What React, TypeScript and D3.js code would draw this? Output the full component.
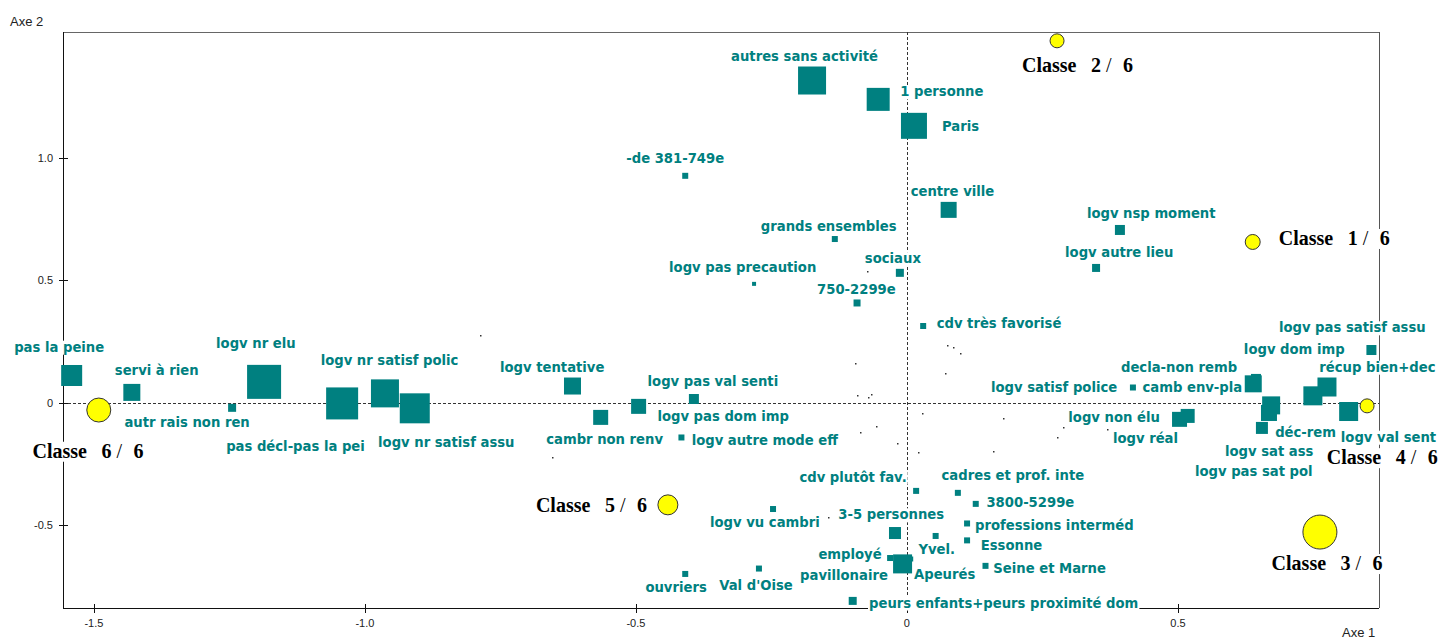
import React, { useEffect, useRef } from "react";
import * as d3 from "d3";

// ---- Data ----
const modalites = [
  "autres sans activité", "1 personne", "Paris", "-de 381-749e", "centre ville",
  "grands ensembles", "sociaux", "logv pas precaution", "750-2299e", "logv nsp moment",
  "logv autre lieu", "cdv très favorisé", "pas la peine", "servi à rien", "autr rais non ren",
  "logv nr elu", "pas décl-pas la pei", "logv nr satisf polic", "logv nr satisf assu", "logv tentative",
  "cambr non renv", "logv pas dom imp", "logv pas val senti", "logv autre mode eff", "logv satisf police",
  "camb env-pla", "decla-non remb", "logv dom imp", "récup bien+dec", "logv val sent",
  "déc-rem", "logv sat ass", "logv pas sat pol", "logv non élu", "logv réal",
  "logv pas satisf assu", "logv vu cambri", "3-5 personnes", "Yvel.", "cdv plutôt fav.",
  "cadres et prof. inte", "employé", "pavillonaire", "Apeurés", "ouvriers",
  "Val d'Oise", "peurs enfants+peurs proximité dom", "3800-5299e", "professions interméd", "Essonne",
  "Seine et Marne",
];
const axe1 = [
  -0.175, -0.053, 0.013, -0.409, 0.077, -0.133, -0.013, -0.282, -0.092, 0.393,
  0.349, 0.030, -1.541, -1.430, -1.245, -1.186, -1.042, -0.963, -0.908, -0.617,
  -0.565, -0.495, -0.393, -0.416, 0.417, 0.639, 0.644, 0.749, 0.775, 0.815,
  0.672, 0.668, 0.655, 0.503, 0.518, 0.857, -0.247, -0.022, 0.053, 0.017,
  0.094, -0.031, -0.008, 0.007, -0.409, -0.273, -0.100, 0.127, 0.111, 0.111,
  0.145,
];
const axe2 = [
  1.316, 1.239, 1.131, 0.927, 0.788, 0.669, 0.531, 0.486, 0.408, 0.706,
  0.551, 0.314, 0.112, 0.043, -0.020, 0.086, -0.002, 0.039, -0.022, 0.069,
  -0.059, -0.014, 0.016, -0.141, 0.063, 0.078, 0.098, 0.029, 0.065, -0.035,
  -0.010, -0.041, -0.102, -0.067, -0.053, 0.216, -0.433, -0.531, -0.543, -0.359,
  -0.367, -0.633, -0.657, -0.637, -0.698, -0.676, -0.808, -0.412, -0.492, -0.561,
  -0.665,
];
const poids = [
  28, 23, 26, 6, 16, 6, 8, 4, 7, 10,
  8, 6, 21, 17, 8, 34, 32, 28, 30, 17,
  15, 15, 10, 6, 6, 17, 10, 19, 19, 19,
  18, 16, 12, 15, 14, 10, 6, 12, 6, 6,
  6, 6, 19, 5, 6, 6, 8, 6, 6, 6,
  6,
];

const classeNum = [1, 2, 3, 4, 5, 6];
const nbClasses = 6;
const classeAxe1 = [0.638, 0.277, 0.762, 0.849, -0.441, -1.491];
const classeAxe2 = [0.657, 1.478, -0.527, -0.012, -0.416, -0.029];
const classeEffectif = [56, 49, 289, 49, 100, 144];

const isolesAxe1 = [-0.788, -0.096, -0.092, -0.072, -0.066, -0.087, -0.057, -0.018, 0.020, 0.028, 0.070, 0.074, 0.085, 0.098, -0.655, 0.177, 0.288, 0.369, 0.277, 0.159, -0.074, -0.146];
const isolesAxe2 = [0.278, 0.163, 0.033, 0.024, 0.037, -0.118, -0.094, -0.163, -0.200, -0.041, 0.122, 0.237, 0.229, 0.204, -0.220, -0.061, -0.098, -0.106, -0.139, -0.196, 0.539, -0.465];

const xTicks = [-1.5, -1.0, -0.5, 0, 0.5];
const xTickLabels = ["-1.5", "-1.0", "-0.5", "0", "0.5"];
const yTicks = [1.0, 0.5, 0, -0.5];
const yTickLabels = ["1.0", "0.5", "0", "-0.5"];

// ---- Layout (label placement offsets in px, relative to marks) ----
const labelOffsets: [number, number][] = [
  [-81, -19.5], [22, -3], [28, 5], [-59, -12.7], [-38, -14],
  [-74, -8.3], [-35, -9.7], [-85, -12.3], [-40, -8.7], [-33, -11.7],
  [-31, -10.7], [13.5, 2.3], [-57.5, -23.8], [-17, -17.5], [-107.7, 18.7],
  [-48, -34.3], [-116, 47.2], [-64.3, -28.5], [-36.7, 38.2], [-72.5, -14.3],
  [-54.5, 26.5], [18.8, 14.2], [-46.3, -13.3], [10.2, 7.5], [-142, 4.8],
  [-110.8, 8.3], [-135, -7.3], [-69, -41.7], [-7.7, -15.3], [-7.8, 30.2],
  [4, 31.8], [-44, 42.7], [-67, 47.7], [-111.2, 2.2], [-74.7, 26.7],
  [-92.5, -17.7], [-63, 17.7], [-56.7, -13.7], [-17.2, 18], [-116.7, -9.3],
  [-16.3, -13], [-71.7, 1.3], [-102.5, 16], [3.3, 20.3], [-39.8, 17.7],
  [-39.7, 21.5], [16.3, 6.7], [10.7, 3.3], [8, 6.5], [13.7, 9.5],
  [7.8, 7.3],
];
const classeLabelOffsets: [number, number][] = [
  [26, 3], [-35, 30.7], [-48.3, 38], [-40.3, 58.3], [-132, 6.7], [-66.3, 47.7],
];

const TEAL = "#008080";

export default function App() {
  const ref = useRef<SVGSVGElement>(null);

  useEffect(() => {
    const svg = d3.select(ref.current!);
    svg.selectAll("*").remove();

    const x = d3.scaleLinear().domain([-1.557, 0.871]).range([63, 1379]);
    const y = d3.scaleLinear().domain([-0.837, 1.514]).range([608, 32]);
    const side = d3.scaleLinear().domain([0, 34]).range([0, 34]);
    const rad = d3.scaleSqrt().domain([0, 289]).range([0, 17]);

    const [xl, xr] = x.range();
    const [yb, yt] = y.range();

    // frame
    const frame = svg.append("g").attr("shape-rendering", "crispEdges");
    frame.append("line").attr("x1", xl).attr("x2", xr).attr("y1", yt + 0.5).attr("y2", yt + 0.5).attr("stroke", "#666").attr("stroke-width", 1.5);
    frame.append("line").attr("x1", xr + 0.5).attr("x2", xr + 0.5).attr("y1", yt).attr("y2", yb).attr("stroke", "#555").attr("stroke-width", 1.5);
    frame.append("line").attr("x1", xl + 0.5).attr("x2", xl + 0.5).attr("y1", yt).attr("y2", yb).attr("stroke", "#111");
    frame.append("line").attr("x1", xl).attr("x2", xr).attr("y1", yb + 0.5).attr("y2", yb + 0.5).attr("stroke", "#111");

    // dashed axes
    frame.append("line").attr("x1", Math.round(x(0)) + 0.5).attr("x2", Math.round(x(0)) + 0.5).attr("y1", yt).attr("y2", yb)
      .attr("stroke", "#333").attr("stroke-dasharray", "3,2");
    frame.append("line").attr("x1", xl).attr("x2", xr).attr("y1", Math.round(y(0)) + 0.5).attr("y2", Math.round(y(0)) + 0.5)
      .attr("stroke", "#333").attr("stroke-dasharray", "3,2");

    // ticks
    xTicks.forEach((t, i) => {
      const px = Math.round(x(t)) + 0.5;
      frame.append("line").attr("x1", px).attr("x2", px).attr("y1", yb - 4).attr("y2", yb + 5).attr("stroke", "#111");
      svg.append("text").attr("x", x(t)).attr("y", 627).attr("text-anchor", "middle")
        .attr("font-family", "Liberation Sans, Arial, sans-serif").attr("font-size", 11).attr("fill", "#222")
        .text(xTickLabels[i]);
    });
    yTicks.forEach((t, i) => {
      const py = Math.round(y(t)) + 0.5;
      frame.append("line").attr("x1", xl - 4).attr("x2", xl + 5).attr("y1", py).attr("y2", py).attr("stroke", "#111");
      svg.append("text").attr("x", 53).attr("y", y(t) + 4).attr("text-anchor", "end")
        .attr("font-family", "Liberation Sans, Arial, sans-serif").attr("font-size", 11).attr("fill", "#222")
        .text(yTickLabels[i]);
    });

    svg.append("text").attr("x", 10).attr("y", 26).attr("font-family", "Liberation Sans, Arial, sans-serif")
      .attr("font-size", 13).attr("fill", "#222").text("Axe 2");
    svg.append("text").attr("x", 1342).attr("y", 637).attr("font-family", "Liberation Sans, Arial, sans-serif")
      .attr("font-size", 13).attr("fill", "#222").text("Axe 1");

    // isolated tiny points
    svg.append("g").selectAll("rect").data(d3.range(isolesAxe1.length)).join("rect")
      .attr("x", (i) => Math.round(x(isolesAxe1[i])))
      .attr("y", (i) => Math.round(y(isolesAxe2[i])))
      .attr("width", 1.5).attr("height", 1.5).attr("fill", "#333");

    // labels with white background
    const lg = svg.append("g");
    modalites.forEach((m, i) => {
      const g = lg.append("g");
      const t = g.append("text")
        .attr("x", x(axe1[i]) + labelOffsets[i][0])
        .attr("y", y(axe2[i]) + labelOffsets[i][1])
        .attr("font-family", "DejaVu Sans, Verdana, sans-serif")
        .attr("font-weight", "bold").attr("font-size", 13.2)
        .attr("fill", TEAL).text(m);
      const bb = (t.node() as SVGTextElement).getBBox();
      g.insert("rect", "text").attr("x", bb.x - 1).attr("y", bb.y + 1).attr("width", bb.width + 2).attr("height", bb.height - 1).attr("fill", "#fff");
    });

    classeNum.forEach((c, i) => {
      const g = lg.append("g");
      const bx = x(classeAxe1[i]) + classeLabelOffsets[i][0];
      const by = y(classeAxe2[i]) + classeLabelOffsets[i][1];
      const t = g.append("text").attr("x", bx).attr("y", by)
        .attr("font-family", "Liberation Serif, Times New Roman, serif").attr("font-size", 20)
        .attr("font-weight", "bold").attr("fill", "#000");
      t.append("tspan").attr("x", bx).text("Classe");
      t.append("tspan").attr("x", bx + 69).text(String(c));
      t.append("tspan").attr("x", bx + 84).attr("font-weight", "normal").text("/");
      t.append("tspan").attr("x", bx + 101).text(String(nbClasses));
      const bb = (t.node() as SVGTextElement).getBBox();
      g.insert("rect", "text").attr("x", bb.x - 2).attr("y", bb.y + 2).attr("width", bb.width + 4).attr("height", bb.height - 2).attr("fill", "#fff");
    });

    // squares
    svg.append("g").selectAll("rect").data(d3.range(modalites.length)).join("rect")
      .attr("x", (i) => x(axe1[i]) - side(poids[i]) / 2)
      .attr("y", (i) => y(axe2[i]) - side(poids[i]) / 2)
      .attr("width", (i) => side(poids[i]))
      .attr("height", (i) => side(poids[i]))
      .attr("fill", TEAL);

    // class circles
    svg.append("g").selectAll("circle").data(d3.range(classeNum.length)).join("circle")
      .attr("cx", (i) => x(classeAxe1[i]))
      .attr("cy", (i) => y(classeAxe2[i]))
      .attr("r", (i) => rad(classeEffectif[i]))
      .attr("fill", "#ffff00").attr("stroke", "#333").attr("stroke-width", 1);
  }, []);

  return (
    <svg
      ref={ref}
      width={1440}
      height={640}
      style={{ position: "absolute", left: 0, top: 0, background: "#fff" }}
    />
  );
}
